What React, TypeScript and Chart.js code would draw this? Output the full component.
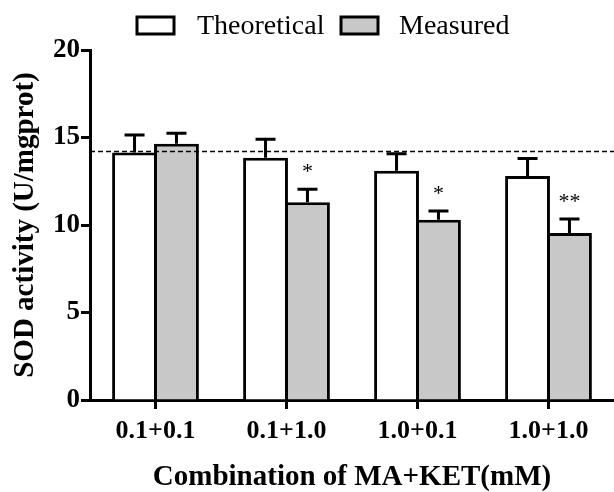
import React, { useEffect, useRef } from "react";
import { Chart, registerables } from "chart.js";

Chart.register(...registerables);

const categories = ["0.1+0.1", "0.1+1.0", "1.0+0.1", "1.0+1.0"];
const theoretical = [14.15, 13.85, 13.1, 12.8];
const theoreticalErr = [1.0, 1.05, 0.97, 1.0];
const measured = [14.65, 11.3, 10.3, 9.55];
const measuredErr = [0.6, 0.75, 0.5, 0.8];
const significance = ["", "*", "*", "**"];
const referenceLevel = 14.2;
const yTicks = [0, 5, 10, 15, 20];
const seriesNames = ["Theoretical", "Measured"];
const seriesColors = ["#ffffff", "#c8c8c8"];

const SERIF = "'Liberation Serif', 'Times New Roman', serif";

const extrasPlugin = {
  id: "extras",
  afterDatasetsDraw(chart: any) {
    const ctx = chart.ctx;
    const y = chart.scales.y;
    const area = chart.chartArea;
    const errs = [theoreticalErr, measuredErr];
    ctx.save();
    const ry = y.getPixelForValue(referenceLevel);
    ctx.strokeStyle = "#000";
    ctx.lineWidth = 1.5;
    ctx.setLineDash([5, 3]);
    ctx.beginPath();
    ctx.moveTo(area.left, ry);
    ctx.lineTo(area.right, ry);
    ctx.stroke();
    ctx.setLineDash([]);
    ctx.lineWidth = 3;
    chart.data.datasets.forEach((ds: any, di: number) => {
      const meta = chart.getDatasetMeta(di);
      meta.data.forEach((el: any, i: number) => {
        const top = y.getPixelForValue(ds.data[i] + errs[di][i]);
        ctx.beginPath();
        ctx.moveTo(el.x, el.y);
        ctx.lineTo(el.x, top);
        ctx.moveTo(el.x - 10, top);
        ctx.lineTo(el.x + 10, top);
        ctx.stroke();
        if (di === 1 && significance[i]) {
          ctx.fillStyle = "#000";
          ctx.font = `22px ${SERIF}`;
          ctx.textAlign = "center";
          ctx.textBaseline = "alphabetic";
          ctx.fillText(significance[i], el.x, top - 11);
        }
      });
    });
    ctx.restore();
  },
  afterDraw(chart: any) {
    const ctx = chart.ctx;
    ctx.save();
    const boxes = [
      { bx: 137, tx: 197 },
      { bx: 341, tx: 399 },
    ];
    chart.data.datasets.forEach((ds: any, di: number) => {
      const b = boxes[di];
      ctx.fillStyle = ds.backgroundColor;
      ctx.strokeStyle = "#000";
      ctx.lineWidth = 3;
      ctx.fillRect(b.bx, 17, 37, 17);
      ctx.strokeRect(b.bx, 17, 37, 17);
      ctx.fillStyle = "#000";
      ctx.font = `28px ${SERIF}`;
      ctx.textAlign = "left";
      ctx.textBaseline = "middle";
      ctx.fillText(ds.label, b.tx, 27);
    });
    ctx.restore();
  },
};

export default function App() {
  const ref = useRef<HTMLCanvasElement>(null);
  useEffect(() => {
    if (!ref.current) return;
    const chart = new Chart(ref.current, {
      type: "bar",
      data: {
        labels: categories,
        datasets: [
          {
            label: seriesNames[0],
            data: theoretical,
            backgroundColor: seriesColors[0],
            borderColor: "#000",
            borderWidth: 3,
            barPercentage: 1.07,
            categoryPercentage: 0.64,
          },
          {
            label: seriesNames[1],
            data: measured,
            backgroundColor: seriesColors[1],
            borderColor: "#000",
            borderWidth: 3,
            barPercentage: 1.07,
            categoryPercentage: 0.64,
          },
        ],
      },
      options: {
        responsive: false,
        animation: false,
        devicePixelRatio: 1,
        layout: { padding: { top: 50, left: 0, right: 0, bottom: 0 } },
        plugins: { legend: { display: false }, tooltip: { enabled: false } },
        scales: {
          x: {
            afterFit: (s: any) => {
              s.height = 92;
            },
            grid: {
              offset: false,
              drawOnChartArea: false,
              drawTicks: true,
              tickLength: 9,
              tickWidth: 3,
              tickColor: "#000",
            },
            border: { display: true, color: "#000", width: 3 },
            ticks: {
              color: "#000",
              padding: 7,
              font: { family: SERIF, size: 26, weight: "bold" },
            },
            title: {
              display: true,
              text: "Combination of MA+KET(mM)",
              color: "#000",
              padding: 0,
              font: { family: SERIF, size: 29, weight: "bold", lineHeight: 1 },
            },
          },
          y: {
            min: 0,
            max: 20,
            afterFit: (s: any) => {
              s.width = 90;
            },
            afterBuildTicks: (s: any) => {
              s.ticks = yTicks.map((v) => ({ value: v }));
            },
            grid: {
              drawOnChartArea: false,
              drawTicks: true,
              tickLength: 9,
              tickWidth: 3,
              tickColor: "#000",
            },
            border: { display: true, color: "#000", width: 3 },
            ticks: {
              color: "#000",
              padding: 1,
              font: { family: SERIF, size: 27, weight: "bold" },
            },
            title: {
              display: true,
              text: "SOD activity (U/mgprot)",
              color: "#000",
              padding: { top: 11, bottom: 0 },
              font: { family: SERIF, size: 29, weight: "bold", lineHeight: 1 },
            },
          },
        },
      },
      plugins: [extrasPlugin],
    });
    return () => chart.destroy();
  }, []);
  return (
    <div style={{ position: "absolute", left: 0, top: 0, width: 614, height: 492, background: "#fff" }}>
      <canvas ref={ref} width={614} height={492} style={{ display: "block" }} />
    </div>
  );
}
